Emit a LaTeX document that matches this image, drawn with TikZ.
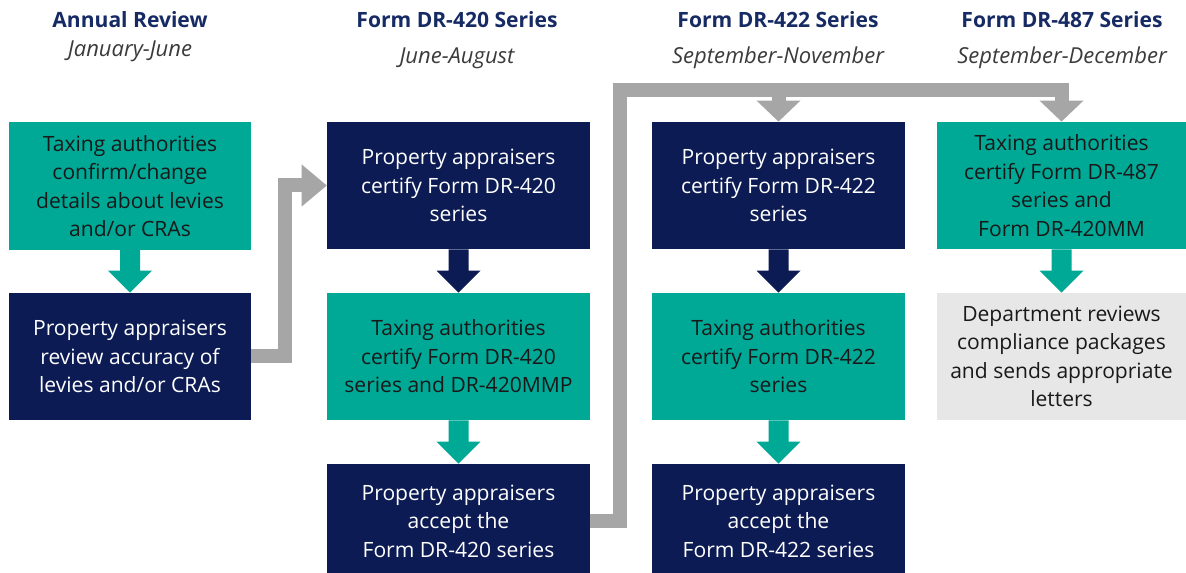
\documentclass[tikz,border=0pt]{standalone}
\usepackage{fontspec}
\setmainfont{Open Sans}
\usetikzlibrary{calc}
\definecolor{tealc}{RGB}{0,168,150}
\definecolor{navyc}{RGB}{12,27,84}
\definecolor{headc}{RGB}{22,42,100}
\definecolor{grayarr}{RGB}{166,166,166}
\definecolor{lgray}{RGB}{231,231,231}
\definecolor{darktxt}{RGB}{25,25,25}
\newcommand\fatdown[3]{%
  \fill[#1] ($(#2.south)+(-10,0)$) -- ($(#2.south)+(10,0)$) -- ($(#3.north)+(10,-22)$) -- ($(#3.north)+(22,-22)$) -- (#3.north) -- ($(#3.north)+(-22,-22)$) -- ($(#3.north)+(-10,-22)$) -- cycle;}
\begin{document}
\begin{tikzpicture}[x=0.75pt,y=-0.75pt,
  box/.style={rectangle, inner sep=0pt, align=center, font=\fontsize{15.8}{21.4}\selectfont},
  tealbox/.style={box, fill=tealc, text=darktxt},
  navybox/.style={box, fill=navyc, text=white},
  graybox/.style={box, fill=lgray, text=darktxt},
  cA/.style={minimum width=181.5pt},
  cB/.style={minimum width=197.25pt},
  cC/.style={minimum width=189.75pt},
  cD/.style={minimum width=186.75pt},
  rr/.style={minimum height=95.5pt},
  rl/.style={minimum height=85.5pt},
  hd/.style={font=\bfseries\fontsize{15.8}{18}\selectfont, text=headc},
  sb/.style={font=\itshape\fontsize{16.5}{18}\selectfont, text=darktxt!85},
  gline/.style={draw=grayarr, line width=10.5pt},
  ]
\useasboundingbox (0,0) rectangle (1186,573);
\fill[white] (0,0) rectangle (1186,573);

% headers
\node[hd] (h1) at (130,20) {Annual Review};
\node[sb] (s1) at (130,51) {January-June};
\node[hd] (h2) at (457,20) {Form DR-420 Series};
\node[sb] (s2) at (457,58) {June-August};
\node[hd] (h3) at (778,20) {Form DR-422 Series};
\node[sb] (s3) at (778,58) {September-November};
\node[hd] (h4) at (1062,20) {Form DR-487 Series};
\node[sb] (s4) at (1062,58) {September-December};

% boxes
\node[tealbox, cA, rr] (a) at (130,186) {Taxing authorities\\confirm/change\\details about levies\\and/or CRAs};
\node[navybox, cA, rr] (b) at (130,356.5) {Property appraisers\\review accuracy of\\levies and/or CRAs};
\node[navybox, cB, rr] (c) at (458.5,185.5) {Property appraisers\\certify Form DR-420\\series};
\node[tealbox, cB, rr] (d) at (458.5,356.5) {Taxing authorities\\certify Form DR-420\\series and DR-420MMP};
\node[navybox, cB, rl] (e) at (458.5,521) {Property appraisers\\accept the\\Form DR-420 series};
\node[navybox, cC, rr] (f) at (778.5,185.5) {Property appraisers\\certify Form DR-422\\series};
\node[tealbox, cC, rr] (g) at (778.5,356.5) {Taxing authorities\\certify Form DR-422\\series};
\node[navybox, cC, rl] (h) at (778.5,521) {Property appraisers\\accept the\\Form DR-422 series};
\node[tealbox, cD, rr] (i) at (1061.5,185.5) {Taxing authorities\\certify Form DR-487\\series and\\Form DR-420MM};
\node[graybox, cD, rr] (j) at (1061.5,356.5) {Department reviews\\compliance packages\\and sends appropriate\\letters};

% vertical fat arrows
\fatdown{tealc}{a}{b}
\fatdown{navyc}{c}{d}
\fatdown{tealc}{d}{e}
\fatdown{navyc}{f}{g}
\fatdown{tealc}{g}{h}
\fatdown{tealc}{i}{j}

% gray connector B -> C
\coordinate (k1) at (285,0);
\draw[gline] (b.east) -| (k1 |- c.west) -- ($(c.west)+(-23,0)$);
\fill[grayarr] (c.west) -- ++(-25,-21) -- ++(0,42) -- cycle;

% gray connector E -> F and I
\coordinate (k2) at (620,90);
\draw[gline] (e.east) -| (k2) -| ($(i.north)+(0,-20)$);
\draw[gline] (f.north |- k2) -- ($(f.north)+(0,-20)$);
\fill[grayarr] (f.north) -- ++(-22,-21) -- ++(44,0) -- cycle;
\fill[grayarr] (i.north) -- ++(-22,-21) -- ++(44,0) -- cycle;
\end{tikzpicture}
\end{document}
